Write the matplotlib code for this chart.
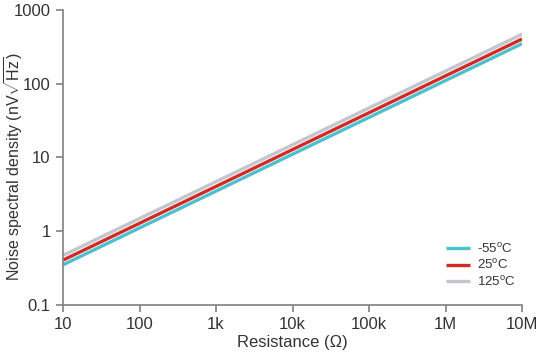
import matplotlib
matplotlib.use('Agg')
import matplotlib.pyplot as plt
from matplotlib.ticker import FixedLocator, NullLocator

plt.rcParams['font.family'] = ['Liberation Sans', 'DejaVu Sans']
plt.rcParams['mathtext.fontset'] = 'custom'
plt.rcParams['mathtext.rm'] = 'Liberation Sans'

# resistance endpoints (ohm) and noise density (nV/rtHz), straight lines on log-log
resistance = [10, 1e7]
noise_m55 = [0.35, 350]
noise_25 = [0.405, 405]
noise_125 = [0.47, 470]

series_labels = ['-55$^{\\rm o}$C', '25$^{\\rm o}$C', '125$^{\\rm o}$C']
x_ticks = [10, 100, 1e3, 1e4, 1e5, 1e6, 1e7]
x_ticklabels = ['10', '100', '1k', '10k', '100k', '1M', '10M']
y_ticks = [0.1, 1, 10, 100, 1000]
y_ticklabels = ['0.1', '1', '10', '100', '1000']

fig = plt.figure(figsize=(5.4, 3.6), dpi=100)
ax = fig.add_axes([0.1167, 0.153, 0.85, 0.819])

ax.plot(resistance, noise_m55, color='#4dbfcd', lw=2.4, label=series_labels[0], solid_capstyle='butt')
ax.plot(resistance, noise_25, color='#d02b27', lw=2.4, label=series_labels[1], solid_capstyle='butt')
ax.plot(resistance, noise_125, color='#c3c6cc', lw=2.4, label=series_labels[2], solid_capstyle='butt')

ax.set_xscale('log')
ax.set_yscale('log')
ax.set_xlim(10, 1e7)
ax.set_ylim(0.1, 1000)
ax.xaxis.set_major_locator(FixedLocator(x_ticks))
ax.yaxis.set_major_locator(FixedLocator(y_ticks))
ax.xaxis.set_minor_locator(NullLocator())
ax.yaxis.set_minor_locator(NullLocator())
ax.set_xticklabels(x_ticklabels)
ax.set_yticklabels(y_ticklabels)

for s in ['top', 'right']:
    ax.spines[s].set_visible(False)
for s in ['left', 'bottom']:
    ax.spines[s].set_color('#808080')
    ax.spines[s].set_linewidth(1.2)
ax.tick_params(colors='#808080', labelcolor='#333333', labelsize=12, length=5, width=1.2,
               direction='out', pad=4)

ax.set_xlabel('Resistance (\u03a9)', fontsize=12, color='#333333', labelpad=2)
ax.set_ylabel('Noise spectral density (nV$\\sqrt{\\rm Hz}$)', fontsize=11.5, color='#333333')
ax.yaxis.set_label_coords(-0.082, 0.47)

leg = ax.legend(loc='upper left', bbox_to_anchor=(0.835, 0.215), frameon=False, fontsize=9.5,
                handlelength=1.8, labelspacing=0.2, handletextpad=0.55,
                borderaxespad=0, borderpad=0)
for t in leg.get_texts():
    t.set_color('#333333')

fig.savefig('out.png', dpi=100)
